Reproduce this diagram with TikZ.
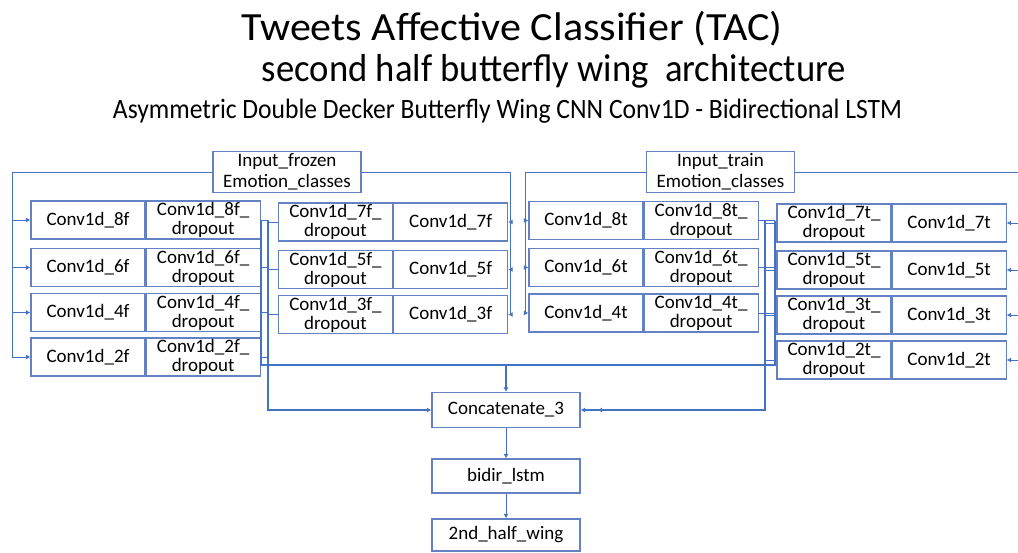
\documentclass[tikz,border=0pt]{standalone}
\usepackage{fontspec}
\setmainfont{Carlito}
\usepackage{graphicx}
\usetikzlibrary{arrows.meta,positioning}

\definecolor{boxblue}{RGB}{100,130,195}
\definecolor{wireblue}{RGB}{68,114,196}

\tikzset{
  cell/.style={draw=boxblue, line width=1.1pt, minimum width=114pt, minimum height=38pt,
    inner sep=0pt, align=center, font=\fontsize{19}{19}\selectfont},
  inbox/.style={cell, minimum width=148pt, minimum height=41pt, font=\fontsize{19}{21}\selectfont},
  endbox/.style={cell, minimum width=148pt},
  wire/.style={draw=wireblue, line width=1pt},
  bus/.style={wire, line width=1.8pt},
  arr/.style={-{Latex[length=4.5pt,width=5pt]}}
}

\begin{document}
\begin{tikzpicture}[x=1pt,y=-1pt]
\useasboundingbox (0,0) rectangle (1018,552);

% titles
\node[anchor=base, font=\fontsize{40}{40}\selectfont] (title) at (512,40)
  {\resizebox{541pt}{\height}{Tweets Affective Classifier (TAC)}};
\node[anchor=base, font=\fontsize{39}{39}\selectfont] (subtitle) at (554,81)
  {\resizebox{584pt}{\height}{second half butterfly wing\ \ architecture}};
\node[anchor=base, font=\fontsize{28}{28}\selectfont] (caption) at (507.5,118)
  {\resizebox{789pt}{\height}{Asymmetric Double Decker Butterfly Wing CNN Conv1D - Bidirectional LSTM}};

% inputs
\node[inbox] (inF) at (287,172) {Input\_frozen\\Emotion\_classes};
\node[inbox] (inT) at (720.5,172) {Input\_train\\Emotion\_classes};

% frozen wing
\foreach \k/\y in {8/220,6/267.5,4/312.5,2/357}
{
\node[cell] (cf\k) at (88,\y) {Conv1d\_\k f};
\node[cell, right=0pt of cf\k] (df\k) {Conv1d\_\k f\_\\dropout};
}
\foreach \k/\y in {7/222,5/269.5,3/314.5}
{
\node[cell] (df\k) at (335.5,\y) {Conv1d\_\k f\_\\dropout};
\node[cell, right=0pt of df\k] (cf\k) {Conv1d\_\k f};
}

% train wing
\foreach \k/\y in {8/220.5,6/267.5,4/313}
{
\node[cell] (ct\k) at (586,\y) {Conv1d\_\k t};
\node[cell, right=0pt of ct\k] (dt\k) {Conv1d\_\k t\_\\dropout};
}
\foreach \k/\y in {7/223,5/270,3/315,2/360}
{
\node[cell] (dt\k) at (834,\y) {Conv1d\_\k t\_\\dropout};
\node[cell, right=0pt of dt\k] (ct\k) {Conv1d\_\k t};
}

% head
\node[endbox, minimum height=35pt] (concat) at (506,410) {Concatenate\_3};
\node[endbox, minimum height=34pt] (lstm) at (506,476) {bidir\_lstm};
\node[endbox, minimum height=32pt] (wing) at (506,535) {2nd\_half\_wing};

% input buses
\coordinate (lbus) at (12,172);
\coordinate (fbus) at (510,172);
\coordinate (tbus) at (525,172);
\coordinate (rbus) at (1025,172);
\draw[wire] (inF.west) -- (lbus) -- (lbus |- cf2.west);
\draw[wire] (inF.east) -- (fbus) -- (fbus |- cf3.east);
\draw[wire] (inT.west) -- (tbus) -- (tbus |- ct4.west);
\draw[wire] (inT.east) -- (rbus) -- (rbus |- ct2.east);
\foreach \k in {8,6,4,2} \draw[wire,arr] (lbus |- cf\k.west) -- (cf\k.west);
\foreach \k in {7,5,3} \draw[wire,arr] (fbus |- cf\k.east) -- (cf\k.east);
\foreach \k in {8,6,4} \draw[wire,arr] (tbus |- ct\k.west) -- (ct\k.west);
\foreach \k in {7,5,3,2} \draw[wire,arr] (rbus |- ct\k.east) -- (ct\k.east);

% output buses
\coordinate (fa) at (261,365);
\coordinate (ta) at (775,365);
\coordinate (fb) at (268,410);
\coordinate (tb) at (765,410);
\foreach \k in {8,6,4,2} \draw[wire] (df\k.east) -- (fb |- df\k.east);
\foreach \k in {7,5,3} \draw[wire] (df\k.west) -- (fb |- df\k.west);
\foreach \k in {8,6,4} \draw[wire] (dt\k.east) -- (ta |- dt\k.east);
\foreach \k in {7,5,3,2} \draw[wire] (dt\k.west) -- (tb |- dt\k.west);
\draw[bus] (fa |- df8.east) -- (fa) -- (ta) -- (ta |- dt8.east);
\draw[bus,arr] (concat.north |- fa) -- (concat.north);
\draw[bus,arr] (fb |- df8.east) -- (fb) -- (concat.west);
\draw[bus,arr] (tb |- dt8.east) -- (tb) -- (concat.east);
\draw[wire,arr] (tb) -- ([xshift=17pt]concat.east);

\draw[wire,arr] (concat) -- (lstm);
\draw[wire,arr] (lstm) -- (wing);
\end{tikzpicture}
\end{document}
